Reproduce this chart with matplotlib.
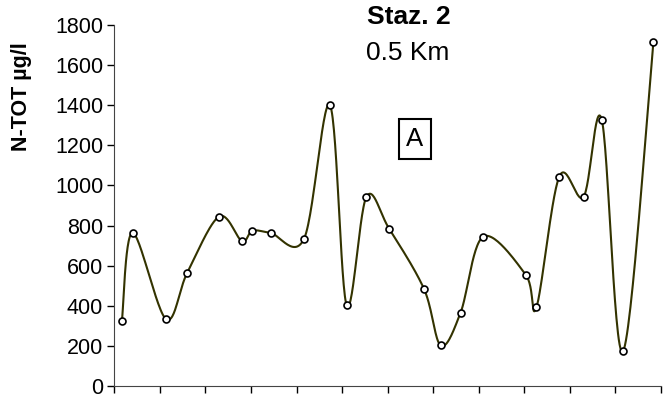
import numpy as np
import matplotlib.pyplot as plt

plt.rcParams['font.family'] = ['Liberation Sans', 'DejaVu Sans']

# sampling day (approx.) and total nitrogen, station 2
days = [5, 12, 34, 48, 69, 84, 91, 103, 125, 142, 153, 166,
        181, 204, 215, 228, 243, 271, 278, 293, 309, 321, 335, 355]
ntot = [324, 764, 334, 564, 845, 723, 774, 763, 735, 1400, 403, 943,
        784, 483, 202, 365, 745, 554, 393, 1044, 943, 1327, 173, 1716]


# Excel-like smoothed line (Catmull-Rom as cubic Bezier segments)
def smooth(xs, ys, n=30):
    P = np.column_stack([xs, ys]).astype(float)
    P = np.vstack([P[0], P, P[-1]])
    out = []
    t = np.linspace(0, 1, n)[:, None]
    for i in range(1, len(P) - 2):
        p0, p3 = P[i], P[i + 1]
        p1 = p0 + (P[i + 1] - P[i - 1]) / 6
        p2 = p3 - (P[i + 2] - P[i]) / 6
        seg = ((1 - t) ** 3) * p0 + 3 * ((1 - t) ** 2) * t * p1 + 3 * (1 - t) * t ** 2 * p2 + t ** 3 * p3
        out.append(seg)
    out = np.vstack(out)
    return out[:, 0], out[:, 1]


fig = plt.figure(figsize=(6.67, 4), dpi=100)
ax = fig.add_axes([114.3 / 667, 14 / 400, (661 - 114.3) / 667, 361 / 400])

sx, sy = smooth(days, ntot)
ax.plot(sx, sy, color='#333300', lw=1.5)
ax.plot(days, ntot, 'o', ms=5, mfc='white', mec='black', mew=1.2)

ax.set_xlim(0, 360)
ax.set_ylim(0, 1800)
ax.set_xticks(np.arange(0, 361, 30))
ax.set_xticklabels([])
ax.set_yticks(np.arange(0, 1801, 200))
ax.tick_params(axis='y', labelsize=15.5, direction='out', length=5, width=1, pad=3)
ax.tick_params(axis='x', direction='out', length=5, width=1)
ax.spines['top'].set_visible(False)
ax.spines['right'].set_visible(False)
ax.spines['left'].set_color('#444444')
ax.spines['bottom'].set_color('#444444')

fig.text(22 / 667, 1 - 97 / 400, 'N-TOT µg/l', rotation=90, fontsize=15.5,
         fontweight='bold', ha='center', va='center')
fig.text(409 / 667, 1 - 17 / 400, 'Staz. 2', fontsize=19, fontweight='bold',
         ha='center', va='center')
fig.text(408 / 667, 1 - 53 / 400, '0.5 Km', fontsize=19, ha='center', va='center')
fig.text(415 / 667, 1 - 139 / 400, 'A', fontsize=18.5, ha='center', va='center',
         bbox=dict(boxstyle='square,pad=0.3', fc='white', ec='black', lw=1.5))

fig.savefig('out.png', dpi=100)
